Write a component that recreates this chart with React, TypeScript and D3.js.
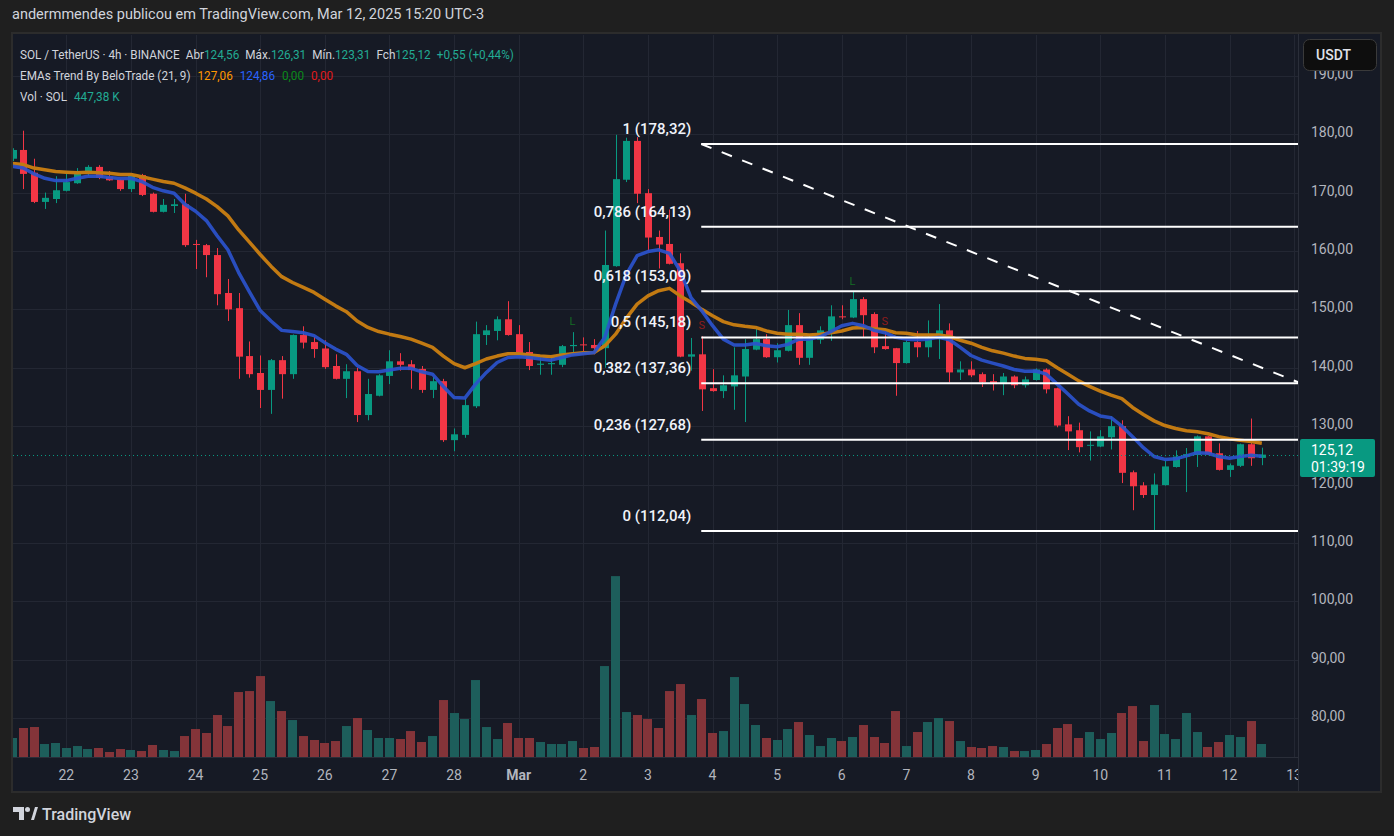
import React from "react";
import * as d3 from "d3";

// SOL/USDT 4h candles (index 0 = first visible bar)
const OPEN = [175.8,177.3,173.4,168.4,168.9,170.3,171.6,173.6,174.4,172.7,
172.2,170.6,173.0,169.8,166.7,167.7,168.0,161.2,161.0,159.3,
152.8,150.2,142.0,139.1,136.2,141.3,138.9,145.6,144.4,143.3,
140.3,138.1,139.4,131.9,135.2,138.6,141.1,140.6,139.8,136.2,
137.7,127.6,128.5,133.4,145.6,146.3,148.3,145.75,142.7,140.5,
140.6,140.5,143.7,144.0,143.9,143.35,157.4,172.2,178.85,169.9,
162.4,161.2,157.9,141.9,142.3,136.5,136.0,136.8,138.5,143.1,
144.9,141.8,142.9,147.3,141.7,144.8,146.3,148.8,148.6,151.75,
149.2,143.7,143.35,140.8,144.4,143.5,144.9,146.4,139.2,139.7,
138.9,137.7,137.2,138.5,137.0,137.9,139.7,136.5,130.3,129.3,
126.65,126.5,128.1,130.0,122.1,119.85,118.2,119.9,123.0,124.8,
125.05,128.25,125.35,122.5,123.2,126.9,124.56];

const HIGH = [177.6,180.6,175.8,170.0,172.8,173.2,174.2,174.7,174.7,173.7,
172.3,173.2,173.2,170.0,168.9,168.9,169.8,161.9,161.2,160.5,
155.2,152.8,144.5,142.1,141.5,142.0,145.7,147.1,145.3,144.7,
142.3,140.6,140.0,138.1,138.9,143.0,142.5,141.3,140.3,138.4,
138.1,129.6,134.8,147.9,147.3,148.8,151.4,147.3,144.4,141.75,
141.75,143.9,146.1,145.2,144.9,163.5,179.9,179.4,179.5,170.6,
163.5,167.1,159.6,145.1,145.4,139.75,138.7,143.5,144.9,147.1,
145.75,144.2,149.9,149.35,145.6,147.1,150.7,150.7,153.0,152.1,
149.5,146.1,143.4,144.7,146.3,148.1,150.9,147.6,141.1,141.1,
139.2,138.9,139.1,138.7,138.5,139.9,139.9,136.6,131.7,130.6,
129.1,129.3,131.7,131.0,122.4,120.4,121.9,124.1,125.85,126.25,
128.4,128.3,127.05,123.6,127.0,131.3,126.31];

const LOW = [175.4,170.6,168.2,167.2,168.2,170.2,171.5,172.8,172.3,172.0,
170.3,170.1,169.4,166.6,166.6,166.5,160.7,156.9,155.5,150.7,
148.0,138.1,138.3,133.1,132.1,134.7,138.1,143.3,141.7,139.8,
138.0,134.8,130.7,131.0,135.1,137.2,139.5,136.4,135.7,134.8,
127.3,125.7,128.0,133.1,143.9,144.7,145.5,142.4,139.6,138.8,
138.8,140.1,142.3,142.3,142.3,140.0,157.3,171.8,168.2,160.0,
157.0,157.7,141.8,139.5,132.6,135.9,134.8,132.8,130.7,143.0,
141.7,140.9,142.8,140.5,140.5,144.1,144.6,148.3,148.5,145.2,
142.5,143.1,135.2,140.7,141.8,141.8,141.5,137.5,137.9,138.4,
136.7,136.1,135.3,136.5,136.6,137.8,135.6,129.8,125.9,125.5,
124.1,126.4,126.0,120.25,115.6,117.7,112.04,119.8,122.9,118.7,
123.0,125.1,122.4,121.3,123.0,123.2,123.31];

const CLOSE = [177.3,173.2,168.4,169.1,170.4,171.8,173.7,174.4,172.5,172.1,
170.6,173.0,169.6,166.7,167.9,168.0,161.0,161.1,159.3,152.6,
150.0,141.9,138.9,136.2,141.3,138.9,145.6,144.3,143.2,140.1,
138.1,139.4,131.9,135.5,138.7,141.1,140.5,139.6,136.2,137.7,
127.6,128.6,133.6,145.75,146.4,148.3,145.6,142.5,140.3,140.7,
140.8,143.7,143.9,143.85,143.35,157.6,172.3,178.85,169.8,162.3,
161.1,157.8,141.9,142.3,136.3,136.0,137.0,138.7,143.2,144.9,
141.8,143.0,147.3,141.7,144.9,146.4,148.8,148.7,151.75,149.0,
143.5,143.2,140.8,144.4,143.5,145.1,146.4,139.2,139.7,138.7,
137.5,137.2,138.5,137.0,138.0,139.7,136.3,130.1,129.1,126.4,
126.8,128.25,130.0,122.0,119.7,118.2,120.0,123.1,124.8,125.2,
128.25,125.2,122.5,123.3,126.9,124.5,125.12];

// volume in thousands of SOL
const VOLUME = [654,998,1032,447,482,310,378,275,310,172,
275,241,206,413,241,206,722,963,826,1445,
1066,2236,2270,2786,1926,1582,1273,722,585,482,
550,1066,1342,929,654,654,619,894,516,722,
1961,1514,1307,2649,1032,619,1170,654,654,516,
447,447,550,310,344,3130,6226,1548,1445,1307,
998,2270,2511,1445,1995,826,894,2752,1823,1101,
654,585,963,1204,757,378,654,550,688,1101,
688,482,1582,378,860,1204,1342,1238,550,344,
310,378,344,206,206,241,447,998,1135,654,
860,619,826,1514,1754,550,1789,791,619,1514,
860,344,516,757,688,1238,447];

// EMAs Trend By BeloTrade
const EMA21 = [175.0,174.8,174.2,173.9,173.6,173.5,173.4,173.5,173.4,173.3,
173.1,173.1,172.7,172.3,171.9,171.6,170.8,169.9,168.9,167.6,
166.0,163.6,161.5,159.4,157.4,155.6,154.6,153.75,152.9,151.75,
150.6,149.6,148.0,146.9,146.2,145.75,145.35,144.9,144.2,143.5,
142.0,140.7,140.0,140.7,141.5,142.0,142.4,142.4,142.2,142.0,
141.9,142.2,142.4,142.55,142.6,143.75,145.75,148.5,150.9,152.3,
153.2,153.6,152.3,151.2,150.0,148.9,147.9,147.35,147.1,146.9,
146.3,145.9,145.75,145.75,145.6,145.75,146.0,146.3,146.8,146.9,
146.7,146.5,146.0,145.9,145.6,145.6,145.6,145.35,144.7,144.2,
143.5,142.9,142.5,142.0,141.6,141.45,141.2,140.0,138.9,137.75,
136.8,136.0,135.3,134.7,133.2,132.0,130.9,130.1,129.6,129.2,
129.05,128.7,128.2,127.85,127.6,127.35,127.06];

const EMA9 = [174.5,174.2,173.2,172.45,172.05,172.05,172.45,172.8,172.8,172.6,
172.4,172.45,171.9,170.9,170.3,169.9,168.0,166.8,165.2,162.6,
160.2,156.3,153.0,149.8,148.0,146.4,146.2,146.0,145.5,144.3,
143.2,142.3,140.4,139.35,139.3,139.6,139.9,139.9,139.3,138.9,
136.8,134.9,134.8,137.2,139.2,140.9,141.75,141.9,141.75,141.5,
141.3,141.75,142.2,142.4,142.6,145.2,150.9,156.0,159.2,159.9,
160.2,159.6,156.6,152.0,149.75,147.2,144.9,143.9,143.9,144.15,
143.75,143.6,144.0,144.9,144.9,145.3,146.2,147.2,147.6,147.2,
146.4,146.0,145.2,144.9,144.8,144.9,145.2,144.8,143.5,142.1,
141.3,140.8,140.3,139.7,139.4,139.45,138.9,137.2,135.5,133.75,
132.6,131.75,131.45,130.0,128.2,126.3,124.8,124.3,124.4,124.9,
125.45,125.35,124.8,124.5,124.8,125.0,124.86];

const DAY_LABELS = ["22","23","24","25","26","27","28","Mar","2","3","4","5","6","7","8","9","10","11","12","13"];
const FIRST_DAY_BAR = 5;
const BARS_PER_DAY = 6;

const PRICE_TICKS = [80,90,100,110,120,130,140,150,160,170,180,190];

const FIB_LEVELS = [1, 0.786, 0.618, 0.5, 0.382, 0.236, 0];
const FIB_PRICES = [178.32, 164.13, 153.09, 145.18, 137.36, 127.68, 112.04];
const FIB_START_BAR = 63.95;
const TREND_BARS = [63.95, 119.4];
const TREND_PRICES = [178.32, 137.5];

const SIGNAL_BARS = [52, 64, 78, 81];
const SIGNAL_TEXT = ["L", "S", "L", "S"];

const LAST_PRICE = 125.12;

const W = 1394;
const H = 836;
const plot = { left: 13, right: 1298, top: 35, bottom: 757 };

const UP = "#089981";
const DOWN = "#f23645";
const TEAL_TXT = "#22ab94";
const FONT = "Roboto, 'Noto Sans', sans-serif";

const fmt = (v: number) => v.toFixed(2).replace(".", ",");

export default function App() {
  const x = d3.scaleLinear().domain([0, 1]).range([12.5, 23.27]);
  const y = d3.scaleLinear().domain([110, 180]).range([542.9, 134.2]);
  const yVol = d3.scaleLinear().domain([0, 6230]).range([757, 576]);

  const bars = d3.range(OPEN.length);
  const emaLine = d3
    .line<number>()
    .x((_, i) => x(i))
    .y((d) => y(d));

  const dayBars = DAY_LABELS.map((_, k) => FIRST_DAY_BAR + k * BARS_PER_DAY);
  const fibX0 = x(FIB_START_BAR);
  const last = OPEN.length - 1;

  return (
    <svg
      width={W}
      height={H}
      style={{ position: "fixed", left: 0, top: 0, display: "block" }}
      fontFamily={FONT}
    >
      <defs>
        <clipPath id="plotClip">
          <rect x={plot.left} y={plot.top} width={plot.right - plot.left} height={plot.bottom - plot.top} />
        </clipPath>
        <clipPath id="axisClip">
          <rect x={plot.left} y={plot.bottom} width={plot.right - plot.left} height={40} />
        </clipPath>
      </defs>

      <rect width={W} height={H} fill="#1f1f1f" />
      <text x={12} y={19} fontSize={14.5} fill="#d1d4dc">
        andermmendes publicou em TradingView.com, Mar 12, 2025 15:20 UTC-3
      </text>

      {/* chart panel */}
      <rect x={12} y={33} width={1369} height={759} fill="#161a25" stroke="#2c2c2c" strokeWidth={2} />

      {/* grid */}
      <g stroke="#232733" strokeWidth={1}>
        {PRICE_TICKS.map((p) => (
          <line key={p} x1={plot.left} x2={plot.right} y1={Math.round(y(p)) + 0.5} y2={Math.round(y(p)) + 0.5} />
        ))}
        {dayBars.map((b) => (
          <line key={b} x1={Math.round(x(b)) + 0.5} x2={Math.round(x(b)) + 0.5} y1={plot.top} y2={plot.bottom} />
        ))}
      </g>
      <line x1={plot.right + 0.5} x2={plot.right + 0.5} y1={34} y2={791} stroke="#2a2e39" />
      <line x1={13} x2={plot.right} y1={plot.bottom + 0.5} y2={plot.bottom + 0.5} stroke="#2a2e39" />

      <g clipPath="url(#plotClip)">
        {/* volume */}
        {bars.map((i) => (
          <rect
            key={"v" + i}
            x={Math.round(x(i) - 4.5)}
            y={yVol(VOLUME[i])}
            width={9}
            height={yVol(0) - yVol(VOLUME[i])}
            fill={CLOSE[i] >= OPEN[i] ? "#1d5e5b" : "#843439"}
          />
        ))}

        {/* candles */}
        {bars.map((i) => {
          const up = CLOSE[i] >= OPEN[i];
          const c = up ? UP : DOWN;
          const cx = Math.round(x(i)) + 0.5;
          const top = y(Math.max(OPEN[i], CLOSE[i]));
          const bot = y(Math.min(OPEN[i], CLOSE[i]));
          return (
            <g key={"c" + i}>
              <line x1={cx} x2={cx} y1={y(HIGH[i])} y2={y(LOW[i])} stroke={c} strokeWidth={1} />
              <rect x={cx - 3.5} y={top} width={7} height={Math.max(1, bot - top)} fill={c} />
            </g>
          );
        })}

        {/* EMAs */}
        <path d={emaLine(EMA21) || ""} fill="none" stroke="#c27a12" strokeWidth={3.5} strokeLinejoin="round" />
        <path d={emaLine(EMA9) || ""} fill="none" stroke="#2b52cc" strokeWidth={3.5} strokeLinejoin="round" opacity={0.92} />

        {/* last price */}
        <line
          x1={plot.left}
          x2={plot.right}
          y1={Math.round(y(LAST_PRICE)) + 0.5}
          y2={Math.round(y(LAST_PRICE)) + 0.5}
          stroke={UP}
          strokeDasharray="1 3"
        />

        {/* signals */}
        {SIGNAL_BARS.map((b, k) => (
          <text
            key={"s" + k}
            x={x(b)}
            y={y(HIGH[b]) - 7}
            fontSize={11}
            textAnchor="middle"
            fill={SIGNAL_TEXT[k] === "L" ? "#146b24" : "#8e1c1c"}
          >
            {SIGNAL_TEXT[k]}
          </text>
        ))}

        {/* fibonacci retracement */}
        {FIB_PRICES.map((p, k) => (
          <line key={"f" + k} x1={fibX0} x2={plot.right} y1={y(p)} y2={y(p)} stroke="#ffffff" strokeWidth={2} />
        ))}
        <line
          x1={x(TREND_BARS[0])}
          y1={y(TREND_PRICES[0])}
          x2={x(TREND_BARS[1])}
          y2={y(TREND_PRICES[1])}
          stroke="#ffffff"
          strokeWidth={2}
          strokeDasharray="11 11"
        />
        {FIB_PRICES.map((p, k) => (
          <text
            key={"fl" + k}
            x={fibX0 - 10}
            y={y(p) - 10}
            fontSize={15}
            fontWeight={500}
            textAnchor="end"
            fill="#f0f3fa"
          >
            {`${String(FIB_LEVELS[k]).replace(".", ",")} (${fmt(p)})`}
          </text>
        ))}
      </g>

      {/* legend (the original font is narrower, so squeeze horizontally) */}
      <g fontSize={13.5} fill="#d1d4dc" transform="translate(20,0) scale(0.87,1) translate(-20,0)">
        <text x={20} y={59}>
          <tspan>SOL / TetherUS · 4h · BINANCE</tspan>
          <tspan dx={7}>Abr</tspan>
          <tspan fill={TEAL_TXT}>{fmt(OPEN[last])}</tspan>
          <tspan dx={7}>Máx.</tspan>
          <tspan fill={TEAL_TXT}>{fmt(HIGH[last])}</tspan>
          <tspan dx={7}>Mín.</tspan>
          <tspan fill={TEAL_TXT}>{fmt(LOW[last])}</tspan>
          <tspan dx={7}>Fch</tspan>
          <tspan fill={TEAL_TXT}>{fmt(CLOSE[last])}</tspan>
          <tspan dx={7} fill={TEAL_TXT}>+0,55 (+0,44%)</tspan>
        </text>
        <text x={20} y={80}>
          <tspan>EMAs Trend By BeloTrade (21, 9)</tspan>
          <tspan dx={8} fill="#ff9800">{fmt(EMA21[last])}</tspan>
          <tspan dx={8} fill="#2962ff">{fmt(EMA9[last])}</tspan>
          <tspan dx={8} fill="#0b8a1a">0,00</tspan>
          <tspan dx={8} fill="#e01b1b">0,00</tspan>
        </text>
        <text x={20} y={101}>
          <tspan>Vol · SOL</tspan>
          <tspan dx={8} fill={TEAL_TXT}>447,38 K</tspan>
        </text>
      </g>

      {/* price axis */}
      <g fontSize={14} fill="#b2b5be">
        {PRICE_TICKS.map((p) => (
          <text key={"pt" + p} x={1311} y={y(p) + 3}>
            {fmt(p)}
          </text>
        ))}
      </g>
      <rect x={1303.5} y={39.5} width={73} height={31} rx={6} fill="#0e0e0e" stroke="#3a3a3a" />
      <text x={1316} y={60} fontSize={14} fill="#e0e3eb" fontWeight={500}>
        USDT
      </text>
      <rect x={1300} y={439} width={75} height={38} rx={2} fill={UP} />
      <text x={1311} y={454.5} fontSize={14} fill="#ffffff">
        {fmt(LAST_PRICE)}
      </text>
      <text x={1311} y={472} fontSize={14} fill="#ffffff">
        01:39:19
      </text>

      {/* time axis */}
      <g clipPath="url(#axisClip)" fontSize={14} fill="#b2b5be" textAnchor="middle">
        {dayBars.map((b, k) => (
          <text key={"d" + k} x={x(b)} y={780} fontWeight={DAY_LABELS[k] === "Mar" ? 700 : 400}>
            {DAY_LABELS[k]}
          </text>
        ))}
      </g>

      {/* footer logo */}
      <g fill="#d1d4dc">
        <path d="M13 807 H24 V820 H19 V812 H13 Z" />
        <circle cx={27.5} cy={809.5} r={2.5} />
        <path d="M31 820 L35 807 H38 L34 820 Z" />
        <text x={42} y={820} fontSize={16} fontWeight={500}>
          TradingView
        </text>
      </g>
    </svg>
  );
}
